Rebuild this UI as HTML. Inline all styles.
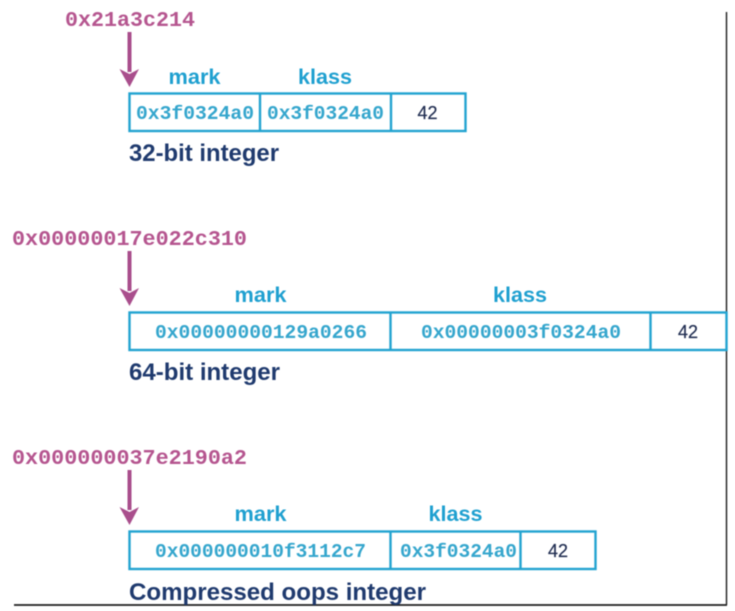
<!DOCTYPE html>
<html>
<head>
<meta charset="utf-8">
<style>
html,body{margin:0;padding:0;background:#fff;width:735px;height:611px;overflow:hidden}
svg{display:block;filter:blur(.5px)}
.addr{font:bold 21.6px "Liberation Mono",monospace;fill:#b5558f}
.hex{font:bold 19.5px "Liberation Mono",monospace;fill:#35a6cd}
.lab{font:bold 21px "Liberation Sans",sans-serif;fill:#1fa0d0}
.title{font:bold 24px "Liberation Sans",sans-serif;fill:#1f3a6e}
.num{font:18px "Liberation Sans",sans-serif;fill:#1f2c50;stroke:#1f2c50;stroke-width:.2}
.box{fill:none;stroke:#22a3d0;stroke-width:2.4}
.arr{stroke:#a94e8c;stroke-width:4;fill:none}
.head{fill:#a94e8c}
.edge{stroke:#1d1d1d;fill:none}
</style>
</head>
<body>
<svg width="735" height="611" viewBox="0 0 735 611" xmlns="http://www.w3.org/2000/svg">
<line class="edge" x1="726.500" y1="12" x2="726.500" y2="605" stroke-width="1.400"/>
<line class="edge" x1="14" y1="605" x2="727" y2="605" stroke-width="1.800"/>

<text class="addr" x="65" y="26" textLength="130" lengthAdjust="spacingAndGlyphs">0x21a3c214</text>
<line class="arr" x1="129.500" y1="32" x2="129.500" y2="72"/>
<polygon class="head" points="119.500,69 129.500,74 139,69 129.500,87"/>
<text class="lab" x="168.500" y="84" textLength="52" lengthAdjust="spacingAndGlyphs">mark</text>
<text class="lab" x="298" y="84" textLength="54" lengthAdjust="spacingAndGlyphs">klass</text>
<rect class="box" x="129.500" y="93.500" width="336" height="37.500"/>
<line class="box" x1="260" y1="93" x2="260" y2="131"/>
<line class="box" x1="391" y1="93" x2="391" y2="131"/>
<text class="hex" x="136" y="119" textLength="118" lengthAdjust="spacingAndGlyphs">0x3f0324a0</text>
<text class="hex" x="267" y="119" textLength="117" lengthAdjust="spacingAndGlyphs">0x3f0324a0</text>
<text class="num" x="417.500" y="119" textLength="20" lengthAdjust="spacingAndGlyphs">42</text>
<text class="title" x="129" y="161" textLength="150" lengthAdjust="spacingAndGlyphs">32-bit integer</text>

<text class="addr" x="12" y="245" textLength="235" lengthAdjust="spacingAndGlyphs">0x00000017e022c310</text>
<line class="arr" x1="129.500" y1="251" x2="129.500" y2="291"/>
<polygon class="head" points="119.500,288 129.500,293 139,288 129.500,306"/>
<text class="lab" x="234.500" y="302" textLength="52" lengthAdjust="spacingAndGlyphs">mark</text>
<text class="lab" x="493" y="302" textLength="54" lengthAdjust="spacingAndGlyphs">klass</text>
<rect class="box" x="129.500" y="312.500" width="597" height="37.500"/>
<line class="box" x1="390.500" y1="312" x2="390.500" y2="350"/>
<line class="box" x1="650.500" y1="312" x2="650.500" y2="350"/>
<text class="hex" x="155" y="338" textLength="212" lengthAdjust="spacingAndGlyphs">0x00000000129a0266</text>
<text class="hex" x="421" y="338" textLength="200" lengthAdjust="spacingAndGlyphs">0x00000003f0324a0</text>
<text class="num" x="678" y="338" textLength="20" lengthAdjust="spacingAndGlyphs">42</text>
<text class="title" x="129" y="380" textLength="151" lengthAdjust="spacingAndGlyphs">64-bit integer</text>

<text class="addr" x="12" y="464" textLength="235" lengthAdjust="spacingAndGlyphs">0x000000037e2190a2</text>
<line class="arr" x1="129.500" y1="470" x2="129.500" y2="510"/>
<polygon class="head" points="119.500,507 129.500,512 139,507 129.500,525"/>
<text class="lab" x="234.500" y="521" textLength="52" lengthAdjust="spacingAndGlyphs">mark</text>
<text class="lab" x="428.500" y="521" textLength="54" lengthAdjust="spacingAndGlyphs">klass</text>
<rect class="box" x="129.500" y="531.500" width="466" height="37.500"/>
<line class="box" x1="390.500" y1="531" x2="390.500" y2="569"/>
<line class="box" x1="520.500" y1="531" x2="520.500" y2="569"/>
<text class="hex" x="155" y="557" textLength="211" lengthAdjust="spacingAndGlyphs">0x000000010f3112c7</text>
<text class="hex" x="400" y="557" textLength="117" lengthAdjust="spacingAndGlyphs">0x3f0324a0</text>
<text class="num" x="548" y="557" textLength="20" lengthAdjust="spacingAndGlyphs">42</text>
<text class="title" x="129" y="600" textLength="297" lengthAdjust="spacingAndGlyphs">Compressed oops integer</text>
</svg>
</body>
</html>
